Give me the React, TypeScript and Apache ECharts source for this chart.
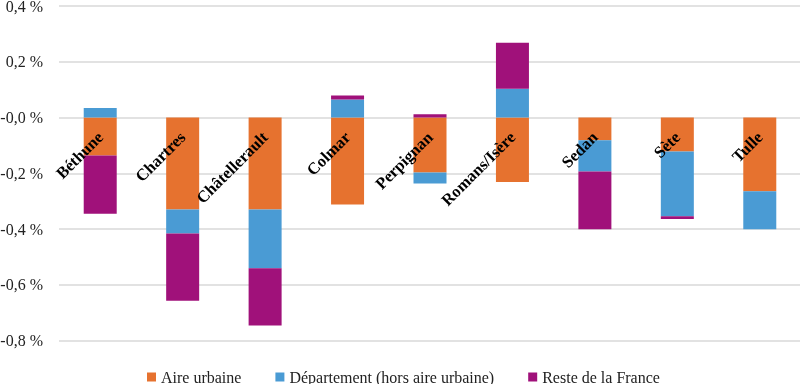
import React, { useEffect, useRef } from "react";
import * as echarts from "echarts";

const categories = ["Béthune", "Chartres", "Châtellerault", "Colmar", "Perpignan", "Romans/Isère", "Sedan", "Sète", "Tulle"];
const seriesNames = ["Aire urbaine", "Département (hors aire urbaine)", "Reste de la France"];
const aireUrbaine = [-0.136, -0.33, -0.33, -0.312, -0.197, -0.231, -0.082, -0.122, -0.265];
const departement = [0.034, -0.086, -0.211, 0.065, -0.04, 0.103, -0.112, -0.232, -0.136];
const resteFrance = [-0.209, -0.241, -0.205, 0.014, 0.012, 0.165, -0.207, -0.01, 0];
const yTickValues = [-0.8, -0.6, -0.4, -0.2, 0, 0.2, 0.4];
const yTickLabels = ["-0,8 %", "-0,6 %", "-0,4 %", "-0,2 %", "-0,0 %", "0,2 %", "0,4 %"];

const colors = ["#E6722F", "#4A9BD4", "#A0117A"];
const serif = "'Liberation Serif', 'Times New Roman', serif";

const Y_MIN = -0.8;
const Y_MAX = 0.4;
const GRID_TOP = 6;
const GRID_BOTTOM = 43.5;
const HEIGHT = 384;

export default function App() {
  const ref = useRef<HTMLDivElement>(null);
  useEffect(() => {
    if (!ref.current) return;
    const chart = echarts.init(ref.current, null, { renderer: "svg" });
    const dataSets = [aireUrbaine, departement, resteFrance];
    const gridHeight = HEIGHT - GRID_TOP - GRID_BOTTOM;
    // distance from the grid bottom up to the zero level
    const zeroOffset = (gridHeight * (0 - Y_MIN)) / (Y_MAX - Y_MIN);
    chart.setOption({
      animation: false,
      color: colors,
      grid: { left: 59, right: -1, top: GRID_TOP, bottom: GRID_BOTTOM, containLabel: false, outerBoundsMode: "none" },
      legend: {
        left: 142,
        top: 364,
        itemWidth: 9,
        itemHeight: 9,
        itemGap: 34,
        icon: "rect",
        textStyle: { fontFamily: serif, fontSize: 16, color: "#222" },
        data: seriesNames,
      },
      xAxis: {
        type: "category",
        data: categories,
        position: "bottom",
        offset: -zeroOffset,
        z: 10,
        axisLine: { show: false, onZero: false },
        axisTick: { show: false },
        axisLabel: {
          rotate: 45,
          margin: 17,
          interval: 0,
          fontFamily: serif,
          fontWeight: "bold",
          fontSize: 16.5,
          color: "#000",
        },
      },
      yAxis: {
        type: "value",
        min: Y_MIN,
        max: Y_MAX,
        interval: 0.2,
        axisLine: { show: false },
        axisTick: { show: false },
        splitLine: { lineStyle: { color: "#D9D9D9", width: 1.5 } },
        axisLabel: {
          margin: 16,
          fontFamily: serif,
          fontSize: 16,
          color: "#222",
          formatter: (v: number) => {
            const i = yTickValues.findIndex((t) => Math.abs(t - v) < 1e-9);
            return i >= 0 ? yTickLabels[i] : String(v);
          },
        },
      },
      series: seriesNames.map((name, i) => ({
        name,
        type: "bar",
        stack: "total",
        barWidth: 33,
        data: dataSets[i],
        itemStyle: { color: colors[i] },
      })),
    });
    return () => chart.dispose();
  }, []);
  return <div ref={ref} style={{ position: "fixed", left: 0, top: 0, width: 800, height: 384 }} />;
}
